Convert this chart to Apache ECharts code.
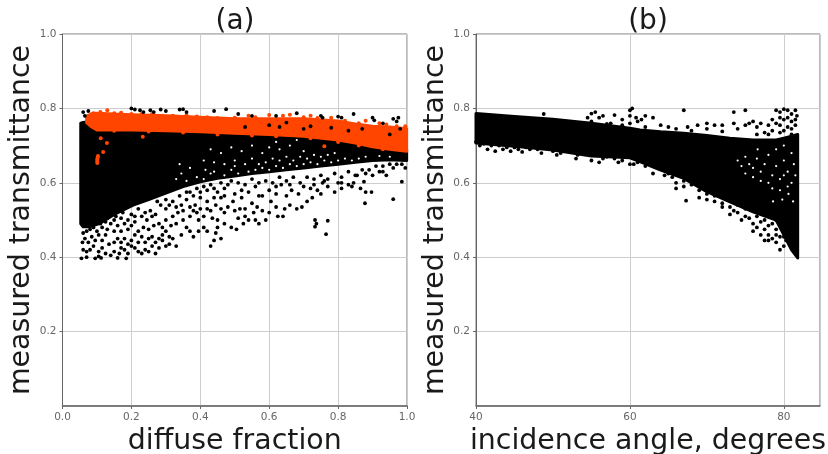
<!DOCTYPE html>
<html><head><meta charset="utf-8">
<style>html,body{margin:0;padding:0;background:#fff}#c{width:828px;height:454px}</style>
<script src="https://cdn.jsdelivr.net/npm/echarts@6/dist/echarts.min.js"></script>
</head><body><div id="c"></div>
<script>
const titleA='(a)',titleB='(b)';
const xNameA='diffuse fraction',xNameB='incidence angle, degrees',yName='measured transmittance';

// dense black cloud, panel a: x, lower edge, upper edge
const denseAx=[.053,.06,.08,.109,.15,.205,.25,.3,.35,.4,.45,.5,.55,.6,.65,.7,.75,.8,.85,.9,.95,.999];
const denseAlo=[.49,.482,.482,.491,.515,.54,.555,.572,.59,.603,.612,.618,.625,.63,.635,.64,.645,.65,.655,.66,.662,.66];
const denseAhi=[.76,.762,.765,.76,.76,.76,.76,.76,.76,.76,.75,.75,.74,.74,.74,.73,.73,.72,.71,.70,.70,.69];
// dense orange band, panel a
const orangeAx=[.07,.085,.1,.2,.3,.4,.5,.6,.7,.8,.85,.9,.95,.999];
const orangeAlo=[.762,.75,.742,.742,.74,.737,.733,.73,.725,.715,.707,.697,.69,.685];
const orangeAhi=[.778,.786,.787,.783,.78,.776,.772,.772,.772,.766,.758,.752,.75,.745];
// dense black cloud, panel b
const denseBx=[40,45,50,55,60,61.3,64,67,70,73,76,79,80,81,81.8];
const denseBlo=[.707,.698,.688,.672,.667,.657,.634,.612,.576,.549,.522,.5,.46,.42,.398];
const denseBhi=[.786,.778,.771,.76,.747,.742,.737,.733,.727,.72,.715,.715,.72,.725,.73];

const pointsA=[[.055,.397],[.07,.40],[.095,.397],[.105,.402],[.112,.398],[.16,.398],[.185,.397],
[.06,.42],[.07,.415],[.08,.42],[.09,.43],[.105,.415],[.115,.425],[.125,.41],[.14,.405],[.15,.415],[.165,.41],[.17,.425],[.18,.42],[.19,.41],[.2,.43],[.21,.425],[.22,.415],[.23,.41],[.24,.42],[.25,.415],[.26,.43],[.27,.41],[.28,.425],[.29,.445],[.3,.43],[.31,.435],[.33,.43],[.32,.45],
[.058,.44],[.065,.45],[.075,.44],[.085,.455],[.095,.445],[.105,.46],[.115,.445],[.125,.46],[.135,.435],[.15,.44],[.16,.45],[.17,.44],[.18,.45],[.19,.435],[.2,.445],[.21,.46],[.22,.44],[.23,.455],[.24,.44],[.25,.45],[.26,.455],[.27,.44],[.28,.45],[.29,.46],[.3,.47],[.31,.455],
[.06,.465],[.07,.47],[.08,.475],[.09,.48],[.1,.47],[.115,.48],[.13,.475],[.14,.49],[.15,.47],[.16,.485],[.17,.47],[.18,.49],[.19,.475],[.2,.485],[.21,.495],[.22,.47],[.235,.48],[.245,.5],[.25,.475],[.265,.485],[.28,.49],[.29,.48],[.3,.5],[.315,.485],[.33,.49],[.345,.46],[.36,.48],[.37,.47],[.38,.455],[.395,.47],[.41,.48],[.42,.47],[.43,.43],[.44,.445],[.445,.465],[.45,.48],[.46,.45],[.47,.49],
[.13,.505],[.155,.51],[.175,.52],[.2,.515],[.22,.53],[.23,.51],[.255,.525],[.27,.515],[.285,.54],[.3,.53],[.32,.51],[.335,.52],[.35,.5],[.37,.51],[.38,.525],[.395,.5],[.41,.51],[.42,.53],[.435,.505],[.45,.5],[.47,.52],[.49,.48],[.505,.475],[.51,.505],[.525,.49],[.54,.5],[.555,.52],[.57,.49],[.58,.525],
[.275,.55],[.3,.555],[.32,.55],[.345,.54],[.36,.555],[.385,.54],[.4,.56],[.42,.55],[.445,.54],[.46,.56],[.48,.535],[.495,.55],[.515,.53],[.53,.53],[.55,.545],[.565,.535],[.6,.52],[.605,.55],[.625,.51],[.64,.51],[.645,.53],[.66,.54],[.68,.53],[.695,.535],[.71,.55],[.725,.56],[.75,.57],
[.42,.58],[.45,.575],[.47,.585],[.5,.57],[.52,.58],[.54,.575],[.56,.59],[.58,.565],[.6,.58],[.62,.57],[.635,.595],[.65,.565],[.665,.58],[.685,.57],[.7,.59],[.72,.585],[.74,.58],[.755,.6],[.77,.59],[.79,.575],[.81,.585],[.83,.595],[.845,.6],[.865,.585],
[.37,.575],[.39,.585],[.41,.59],[.43,.595],[.44,.585],[.46,.6],[.48,.595],[.49,.605],[.51,.6],[.53,.595],[.55,.61],[.57,.6],[.59,.605],[.61,.6],[.63,.615],[.65,.605],[.67,.615],[.69,.6],[.71,.615],[.73,.61],[.75,.62],[.77,.61],[.79,.625],[.81,.615],[.83,.63],[.85,.62],[.87,.635],[.89,.635],[.91,.645],[.93,.63],[.95,.65],[.97,.65],
[.34,.565],[.36,.575],[.38,.565],[.4,.575],[.44,.56],[.47,.565],[.52,.56],[.57,.565],[.62,.59],[.66,.595],[.73,.595],[.76,.605],[.8,.6],
[.31,.54],[.33,.535],[.35,.525],[.37,.535],[.39,.52],[.4,.53],[.43,.525],[.46,.53],[.5,.525],[.53,.51],[.56,.5],[.59,.5],[.62,.535],
[.11,.49],[.125,.495],[.15,.5],[.17,.505],[.19,.5],[.21,.51],[.24,.52],[.26,.51],
[.733,.50],[.737,.49],[.733,.482],[.77,.498],[.765,.462],[.985,.603],[.96,.556],[.878,.545],[.88,.575],[.897,.575],[.875,.603],[.84,.59],[.81,.6],[.9,.62],[.92,.63],[.93,.645],[.88,.625],[.855,.62],[.96,.64],[.985,.65],[.995,.64],[.94,.62],
// sparse upper scatter above the orange band
[.06,.79],[.075,.793],[.065,.78],[.2,.8],[.21,.797],[.225,.795],[.235,.79],[.255,.795],[.265,.79],[.285,.797],[.3,.793],[.34,.797],[.35,.798],[.36,.79],[.44,.793],[.475,.798],[.51,.785],[.55,.78],[.62,.78],[.68,.787],[.75,.78],[.755,.775],[.8,.778],[.81,.775],[.845,.785],[.9,.775],[.905,.768],[.96,.772],[.97,.765],[.975,.775],[.93,.76],
[.6,.755],[.63,.75],[.65,.762],[.7,.745],[.72,.752],[.78,.748],[.83,.74],[.87,.745],[.95,.73],[.98,.745],[.53,.75]];

const orangeEdgeA=[[.075,.78],[.09,.787],[.11,.79],[.13,.795],[.15,.787],[.17,.788],[.2,.785],[.23,.785],[.26,.785],[.29,.78],[.32,.78],[.36,.782],[.39,.778],[.42,.776],[.45,.774],[.5,.775],[.54,.78],[.56,.776],[.6,.782],[.64,.78],[.66,.783],[.7,.776],[.72,.78],[.74,.774],[.78,.775],[.82,.767],[.86,.76],[.88,.767],[.92,.76],[.94,.757],[.97,.752],[.995,.752],
[.15,.74],[.25,.738],[.35,.735],[.45,.73],[.55,.727],[.62,.725],[.72,.72],[.8,.71],[.86,.7],[.93,.69],
[.111,.72],[.118,.683],[.129,.707],[.233,.724],[.101,.653],[.101,.658],[.101,.663],[.102,.668],[.103,.672],[.76,.698],[.83,.715]];

const gapsA=[[.33,.61],[.36,.605],[.39,.615],[.41,.61],[.43,.625],[.44,.63],[.47,.62],[.49,.635],[.51,.625],[.54,.63],[.56,.635],[.58,.64],[.6,.635],[.62,.645],[.64,.64],[.66,.65],[.68,.645],[.7,.65],[.72,.655],[.74,.65],[.76,.66],[.78,.655],[.8,.66],[.82,.665],[.84,.66],[.86,.665],[.88,.67],[.92,.672],[.95,.67],
[.34,.65],[.37,.64],[.41,.66],[.44,.655],[.47,.65],[.5,.66],[.53,.65],[.55,.665],[.57,.65],[.59,.655],[.61,.665],[.63,.66],[.65,.67],[.67,.66],[.69,.67],[.71,.665],[.73,.675],[.75,.67],[.77,.675],[.79,.68],
[.43,.69],[.46,.68],[.49,.695],[.52,.685],[.55,.7],[.58,.68],[.6,.695],[.63,.69],[.66,.7],[.7,.685],[.62,.71],[.68,.715],[.5,.645],[.415,.635],[.345,.625]];

const pointsB=[[40,.71],[40.5,.70],[41,.705],[41.5,.69],[42,.70],[42.5,.685],[43,.70],[43.5,.69],[44,.695],[44.5,.685],[45,.695],[45.5,.69],[46,.683],[46.5,.695],[47,.69],[48,.69],[48.5,.68],[49,.695],[50,.685],[50.5,.675],[51,.68],[51.5,.695],[52,.685],[53,.665],[53.2,.675],[53.5,.695],[54,.68],[55,.66],[56,.655],[56.5,.665],[57,.67],[58,.665],[58.5,.655],[59,.66],[60,.65],[60.5,.65],[61,.655],[62,.645],[63,.625],[64.5,.62],[65,.625],[66,.6],
[66,.585],[67,.59],[67.3,.552],[69,.56],[70,.555],[71,.55],[72,.535],[73,.515],[73.5,.525],[74,.52],[75,.53],[75.5,.505],[76,.49],[76.5,.48],[77,.495],[77.5,.475],[78,.46],[78.5,.49],[79,.475],[77,.46],[78,.445],[79,.44],[79.5,.455],[76,.47],[80,.43],[79.5,.42],[80.3,.445],[75,.51],[74,.54],
[77.5,.5],[78,.485],[79,.5],[79.5,.485],[79,.46],[78.5,.45],[77.5,.445],[80,.475],[80,.455],[76.5,.51],[74.5,.5],[73,.535],[72,.545],[71,.565],[70,.57],[69,.58],[68,.595],[67,.605],[65.5,.615],
[48.8,.785],[55,.786],[55.5,.79],[54.5,.775],[55,.765],[56,.775],[56.5,.78],[57,.758],[57.5,.76],[58,.782],[59,.77],[60,.795],[60.3,.80],[60,.78],[60.8,.775],[61,.765],[60,.76],[61.5,.77],[62,.75],[63,.775],[59,.755],
[62,.78],[67,.795],[73.5,.79],[75,.795],[73.5,.76],[68,.74],[70,.76],[71,.755],[72,.755],[74,.745],[75,.755],[75.5,.76],[76,.765],[76.5,.75],[77,.76],[78,.755],[78.5,.77],[79,.795],[79.5,.79],[80,.798],[80.5,.795],[81,.785],[81.5,.795],[81.7,.78],[79.5,.775],[80,.77],[80.5,.775],[81,.765],[81.5,.77],[79,.76],[79.5,.755],[80.5,.75],[81,.745],[81.5,.755],[78,.73],[78.5,.74],[79.5,.735],[80,.74],[81,.73],[76.5,.73],[77.5,.735],[72,.738],[70,.745],[65,.75],[66,.745],[64,.755],[67.5,.75],[68.8,.755]];

const gapsB=[[75,.67],[75.5,.65],[76,.64],[76.5,.665],[77,.63],[77.5,.65],[78,.675],[78.5,.62],[79,.645],[79.5,.61],[80,.66],[80.5,.63],[81,.6],[81.3,.65],[78,.6],[78.5,.585],[79.5,.58],[80.5,.59],[80,.62],[77,.605],[76,.615],[75,.625],[74.5,.645],[74,.66],[81,.68],[79,.69],[80,.7],[80.6,.57],[81.2,.55],[79.8,.555],[76.6,.69],[78.6,.55],[81.5,.62]];

function band(xs,lo,hi,color,gi){
  return {type:'custom',xAxisIndex:gi,yAxisIndex:gi,silent:true,data:[0],z:2,
    renderItem:(p,api)=>{
      const pts=[];
      xs.forEach((x,i)=>pts.push(api.coord([x,hi[i]])));
      for(let i=xs.length-1;i>=0;i--)pts.push(api.coord([xs[i],lo[i]]));
      return {type:'polygon',shape:{points:pts},style:{fill:color,stroke:color,lineWidth:3,lineJoin:'round'}};
    }};
}
function dots(data,color,gi,z,size){
  return {type:'scatter',xAxisIndex:gi,yAxisIndex:gi,data,symbolSize:size,silent:true,z,
    animation:false,itemStyle:{color,opacity:1},clip:false};
}
const tickLabel={color:'#666',fontSize:10.5,fontFamily:'DejaVu Sans'};
const gridLine={show:true,lineStyle:{color:'#cdcdcd',width:1}};
const nameText={color:'#1a1a1a',fontSize:28.4,fontFamily:'DejaVu Sans'};
function yAxis(gi){return {type:'value',gridIndex:gi,min:0,max:1,interval:.2,
  name:yName,nameLocation:'middle',nameGap:gi?22:26,nameTextStyle:nameText,
  axisLine:{show:true,lineStyle:{color:'#666'}},axisTick:{show:true,length:3,lineStyle:{color:'#666'}},
  axisLabel:{...tickLabel,margin:6,showMinLabel:false,formatter:v=>v.toFixed(1)},splitLine:gridLine};}

const chart=echarts.init(document.getElementById('c'),null,{renderer:'canvas'});
chart.setOption({animation:false,backgroundColor:'#fff',
  title:[
    {text:titleA,left:230,top:3,textAlign:'center',textStyle:{...nameText,fontWeight:'normal',fontSize:28}},
    {text:titleB,left:643,top:3,textAlign:'center',textStyle:{...nameText,fontWeight:'normal',fontSize:28}}
  ],
  grid:[
    {left:62.5,top:34,width:344.5,height:372,outerBoundsMode:'none',show:true,borderColor:'#777',borderWidth:1,backgroundColor:'#fff'},
    {left:476,top:34,width:344,height:372,outerBoundsMode:'none',show:true,borderColor:'#777',borderWidth:1,backgroundColor:'#fff'}
  ],
  xAxis:[
    {type:'value',gridIndex:0,min:0,max:1,interval:.2,name:xNameA,nameLocation:'middle',nameGap:18,nameTextStyle:nameText,
     axisLine:{show:true,lineStyle:{color:'#666',width:1.5}},axisTick:{show:true,length:3,lineStyle:{color:'#666'}},
     axisLabel:{...tickLabel,margin:6,formatter:v=>v.toFixed(1)},splitLine:gridLine},
    {type:'value',gridIndex:1,min:40,max:84.7,interval:20,name:xNameB,nameLocation:'middle',nameGap:18,nameTextStyle:nameText,
     axisLine:{show:true,lineStyle:{color:'#666',width:1.5}},axisTick:{show:true,length:3,lineStyle:{color:'#666'}},
     axisLabel:{...tickLabel,margin:6,showMaxLabel:false},splitLine:gridLine}
  ],
  yAxis:[yAxis(0),yAxis(1)],
  series:[
    band(denseAx,denseAlo,denseAhi,'#000',0),
    dots(gapsA,'#fff',0,3,2.2),
    dots(pointsA.filter(p=>p[1]<.7),'#000',0,4,3.8),
    band(orangeAx,orangeAlo,orangeAhi,'#ff4500',0),
    dots(orangeEdgeA,'#ff4500',0,6,4),
    dots(pointsA.filter(p=>p[1]>=.7),'#000',0,7,3.8),
    band(denseBx,denseBlo,denseBhi,'#000',1),
    dots(gapsB,'#fff',1,3,2.2),
    dots(pointsB,'#000',1,4,3.8)
  ]
});
</script></body></html>
